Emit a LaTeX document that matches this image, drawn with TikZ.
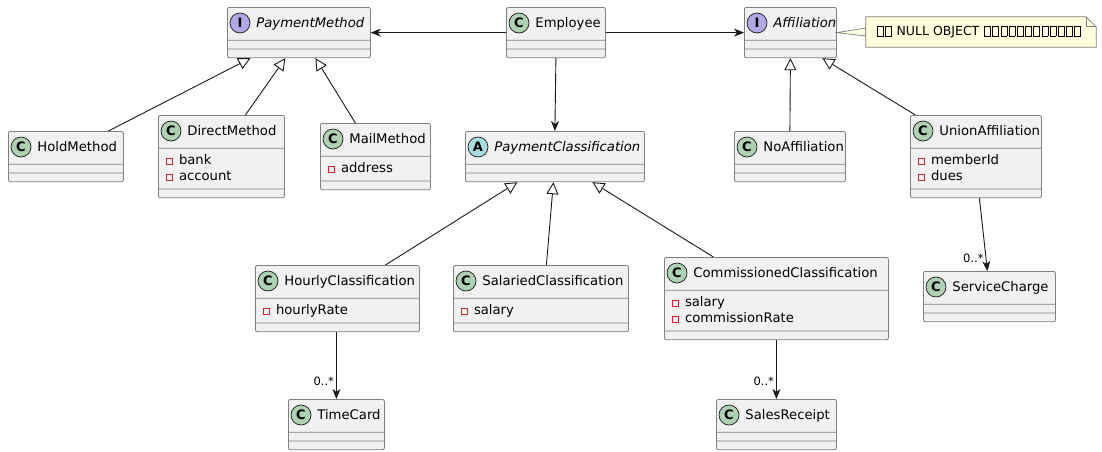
\documentclass[tikz,border=0pt]{standalone}
\usepackage{fontspec}
\setmainfont{DejaVu Sans}
\usetikzlibrary{arrows.meta,positioning,shapes.multipart}

\definecolor{clsbg}{HTML}{F1F1F1}
\definecolor{clsbd}{HTML}{7F7F7F}
\definecolor{lnc}{HTML}{181818}
\definecolor{circC}{HTML}{ADD1B2}
\definecolor{circI}{HTML}{B4A7E5}
\definecolor{circA}{HTML}{A9DCDF}
\definecolor{privred}{HTML}{C82930}
\definecolor{notebg}{HTML}{FEFFDD}

% header strut + room for the circled letter
\newcommand\clshead{\hspace*{24pt}\rule[-8pt]{0pt}{24pt}}
% private field marker
\newcommand\privmark{\hspace*{3pt}\raisebox{0.5pt}{\textcolor{privred}{\fboxsep=0pt\fboxrule=0.8pt\fbox{\rule{0pt}{5pt}\rule{5pt}{0pt}}}}\hspace{6pt}}
\newcommand\attrline[1]{\privmark\rule[-4pt]{0pt}{16pt}#1}
% missing glyph box
\newcommand\tofu{\kern0.8pt{\fboxsep=0pt\fboxrule=0.6pt\fbox{\rule{0pt}{9pt}\rule{5.4pt}{0pt}}}\kern0.8pt}

\begin{document}
\begin{tikzpicture}[x=1pt, y=-1pt,
  cls/.style={rectangle split, rectangle split parts=3, draw=clsbd, fill=clsbg,
    rounded corners=2pt, line width=0.8pt, anchor=north west,
    inner xsep=5pt, inner ysep=4pt, align=left,
    font=\fontsize{13.2}{16}\selectfont,
    rectangle split empty part height=0pt, rectangle split empty part depth=0pt},
  circ/.style={circle, draw=lnc, line width=0.7pt, minimum size=20pt, inner sep=0pt,
    font=\fontsize{13}{13}\selectfont\bfseries},
  assoc/.style={-{Stealth[length=10pt, width=8pt, inset=3pt]}, draw=lnc, line width=0.9pt},
  gen/.style={-{Triangle[open, length=12pt, width=12pt]}, draw=lnc, line width=0.9pt},
  mult/.style={font=\fontsize{11.5}{12}\selectfont, inner sep=2pt},
  notebox/.style={minimum width=230pt, minimum height=30pt, inner sep=0pt},
  notetext/.style={font=\fontsize{12.5}{14}\selectfont, inner sep=0pt},
  notebd/.style={draw=clsbd, line width=0.7pt, fill=notebg}]
  \useasboundingbox (0,0) rectangle (1102,451);

  % top row
  \node[cls, text width=133pt] (pm) at (227,7)
    {\nodepart{one}\clshead\textit{PaymentMethod}\nodepart{two}\nodepart{three}};
  \node[cls, text width=89pt] (emp) at (506,7)
    {\nodepart{one}\clshead Employee\nodepart{two}\nodepart{three}};
  \node[cls, text width=82pt] (aff) at (744,7)
    {\nodepart{one}\clshead\textit{Affiliation}\nodepart{two}\nodepart{three}};

  % second row
  \node[cls, text width=105pt] (hold) at (8,131)
    {\nodepart{one}\clshead HoldMethod\nodepart{two}\nodepart{three}};
  \node[cls, text width=116pt] (direct) at (158,115)
    {\nodepart{one}\clshead DirectMethod\nodepart{two}\attrline{bank}\\\attrline{account}\nodepart{three}};
  \node[cls, text width=100pt] (mail) at (320,123)
    {\nodepart{one}\clshead MailMethod\nodepart{two}\attrline{address}\nodepart{three}};
  \node[cls, text width=169pt] (pc) at (465,131)
    {\nodepart{one}\clshead\textit{PaymentClassification}\nodepart{two}\nodepart{three}};
  \node[cls, text width=101pt] (noaff) at (734,131)
    {\nodepart{one}\clshead NoAffiliation\nodepart{two}\nodepart{three}};
  \node[cls, text width=121pt] (union) at (910,115)
    {\nodepart{one}\clshead UnionAffiliation\nodepart{two}\attrline{memberId}\\\attrline{dues}\nodepart{three}};

  % third row
  \node[cls, text width=154pt] (hourly) at (255,265)
    {\nodepart{one}\clshead HourlyClassification\nodepart{two}\attrline{hourlyRate}\nodepart{three}};
  \node[cls, text width=165pt] (salaried) at (453,265)
    {\nodepart{one}\clshead SalariedClassification\nodepart{two}\attrline{salary}\nodepart{three}};
  \node[cls, text width=214pt] (comm) at (664,257)
    {\nodepart{one}\clshead CommissionedClassification\nodepart{two}\attrline{salary}\\\attrline{commissionRate}\nodepart{three}};
  \node[cls, text width=122pt] (sc) at (923,271)
    {\nodepart{one}\clshead ServiceCharge\nodepart{two}\nodepart{three}};

  % bottom row
  \node[cls, text width=86pt] (tc) at (288,399)
    {\nodepart{one}\clshead TimeCard\nodepart{two}\nodepart{three}};
  \node[cls, text width=110pt] (sr) at (716,399)
    {\nodepart{one}\clshead SalesReceipt\nodepart{two}\nodepart{three}};

  % circled letters
  \node[circ, fill=circI] (pmicon) at ([shift={(13pt,-16pt)}]pm.north west) {I};
  \node[circ, fill=circC] (empicon) at ([shift={(13pt,-16pt)}]emp.north west) {C};
  \node[circ, fill=circI] (afficon) at ([shift={(13pt,-16pt)}]aff.north west) {I};
  \node[circ, fill=circC] (holdicon) at ([shift={(13pt,-16pt)}]hold.north west) {C};
  \node[circ, fill=circC] (directicon) at ([shift={(13pt,-16pt)}]direct.north west) {C};
  \node[circ, fill=circC] (mailicon) at ([shift={(13pt,-16pt)}]mail.north west) {C};
  \node[circ, fill=circA] (pcicon) at ([shift={(13pt,-16pt)}]pc.north west) {A};
  \node[circ, fill=circC] (noafficon) at ([shift={(13pt,-16pt)}]noaff.north west) {C};
  \node[circ, fill=circC] (unionicon) at ([shift={(13pt,-16pt)}]union.north west) {C};
  \node[circ, fill=circC] (hourlyicon) at ([shift={(13pt,-16pt)}]hourly.north west) {C};
  \node[circ, fill=circC] (salariedicon) at ([shift={(13pt,-16pt)}]salaried.north west) {C};
  \node[circ, fill=circC] (commicon) at ([shift={(13pt,-16pt)}]comm.north west) {C};
  \node[circ, fill=circC] (scicon) at ([shift={(13pt,-16pt)}]sc.north west) {C};
  \node[circ, fill=circC] (tcicon) at ([shift={(13pt,-16pt)}]tc.north west) {C};
  \node[circ, fill=circC] (sricon) at ([shift={(13pt,-16pt)}]sr.north west) {C};

  % note
  \node[notebox] (note) at (981,32) {};
  \draw[notebd] (aff.east) -- ([yshift=4pt]note.west) -- ([yshift=-4pt]note.west) -- cycle;
  \draw[notebd] (note.north west) -- ([xshift=-10pt]note.north east)
    -- ([yshift=-10pt]note.north east) -- (note.south east) -- (note.south west) -- cycle;
  \draw[draw=clsbd, line width=0.7pt] ([xshift=-10pt]note.north east) |- ([yshift=-10pt]note.north east);
  \node[notetext] (notetxt) at ([xshift=-2pt]note.center)
    {\tofu\tofu\ NULL OBJECT \tofu\tofu\tofu\tofu\tofu\tofu\tofu\tofu\tofu\tofu\tofu\tofu};

  % associations
  \draw[assoc] (emp.west) -- (pm.east);
  \draw[assoc] (emp.east) -- (aff.west);
  \draw[assoc] (emp.south) -- (pc.north);
  \draw[assoc] ([xshift=3.5pt]union.south) -- node[pos=0.83, left, mult] {0..*} ([xshift=-2pt]sc.north);
  \draw[assoc] ([xshift=-1pt]hourly.south) -- node[pos=0.74, left, mult] {0..*} (tc.north);
  \draw[assoc] (comm.south) -- node[pos=0.7, left, mult] {0..*} (sr.north);

  % generalisations
  \draw[gen] ([xshift=42.5pt]hold.north) -- ([xshift=-48.5pt]pm.south);
  \draw[gen] ([xshift=24pt]direct.north) -- ([xshift=-13.5pt]pm.south);
  \draw[gen] ([xshift=-20pt]mail.north) -- ([xshift=16.5pt]pm.south);
  \draw[gen] ([xshift=48pt]hourly.north) -- ([xshift=-37.5pt]pc.south);
  \draw[gen] ([xshift=5.5pt]salaried.north) -- ([xshift=-1.5pt]pc.south);
  \draw[gen] ([xshift=-63pt]comm.north) -- ([xshift=37.5pt]pc.south);
  \draw[gen] (noaff.north) -- (aff.south);
  \draw[gen] ([xshift=-60.5pt]union.north) -- ([xshift=32pt]aff.south);
\end{tikzpicture}
\end{document}
